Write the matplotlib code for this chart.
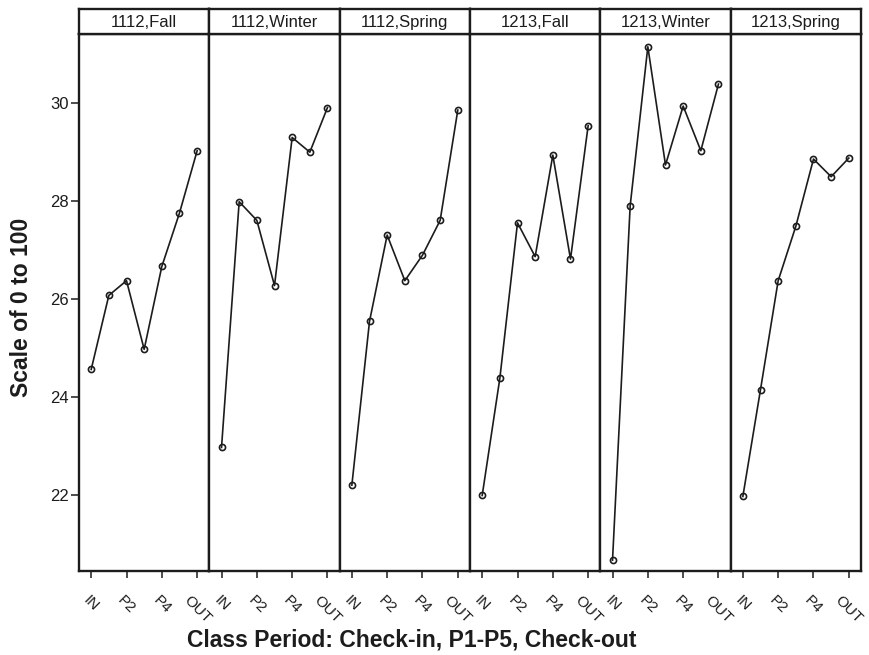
import matplotlib
matplotlib.use("Agg")
import matplotlib.pyplot as plt

plt.rcParams['font.family'] = ['Liberation Sans', 'DejaVu Sans']

# ---------------------------------------------------------------
# data: mean score per class period, one panel per term
# ---------------------------------------------------------------
periods = ['IN', 'P1', 'P2', 'P3', 'P4', 'P5', 'OUT']
tick_labels = ['IN', 'P2', 'P4', 'OUT']
terms = ['1112,Fall', '1112,Winter', '1112,Spring',
         '1213,Fall', '1213,Winter', '1213,Spring']

fall_1112 = [24.57, 26.08, 26.38, 24.98, 26.67, 27.76, 29.03]
winter_1112 = [22.98, 27.99, 27.61, 26.28, 29.30, 29.00, 29.91]
spring_1112 = [22.21, 25.55, 27.31, 26.38, 26.90, 27.61, 29.86]
fall_1213 = [22.00, 24.39, 27.56, 26.87, 28.94, 26.82, 29.54]
winter_1213 = [20.68, 27.91, 31.15, 28.74, 29.94, 29.03, 30.39]
spring_1213 = [21.98, 24.16, 26.38, 27.49, 28.86, 28.50, 28.88]

series = [fall_1112, winter_1112, spring_1112, fall_1213, winter_1213, spring_1213]
y_ticks = [22, 24, 26, 28, 30]

ink = '#1c1c1c'
W, H = 870, 655
fig = plt.figure(figsize=(W / 100, H / 100), dpi=100)

left, right = 79, 861
panel_top, panel_bot = 34, 571
strip_top = 9
pw = (right - left) / len(terms)

x = list(range(len(periods)))
for i, (term, vals) in enumerate(zip(terms, series)):
    x0 = left + i * pw
    ax = fig.add_axes([x0 / W, 1 - panel_bot / H, pw / W, (panel_bot - panel_top) / H])
    ax.plot(x, vals, color=ink, lw=1.2, marker='o', ms=4.4,
            mfc='none', mec=ink, mew=1.2)
    ax.set_xlim(-0.69, 6.69)
    ax.set_ylim(20.46, 31.41)
    ax.set_xticks([0, 2, 4, 6])
    ax.set_xticklabels(tick_labels, rotation=-45, ha='center', va='top',
                       fontsize=11, color=ink)
    ax.tick_params(axis='x', direction='out', length=5, width=1.1,
                   color=ink, pad=11)
    if i == 0:
        ax.set_yticks(y_ticks)
        ax.tick_params(axis='y', direction='out', length=5.5, width=1.1,
                       color=ink, labelsize=12, labelcolor=ink, pad=2)
    else:
        ax.set_yticks([])
    for sp in ax.spines.values():
        sp.set_linewidth(1.7)
        sp.set_color(ink)

    # strip on top of each panel
    sx = fig.add_axes([x0 / W, 1 - panel_top / H, pw / W, (panel_top - strip_top) / H])
    sx.set_xticks([])
    sx.set_yticks([])
    for sp in sx.spines.values():
        sp.set_linewidth(1.7)
        sp.set_color(ink)
    sx.text(0.5, 0.45, term, ha='center', va='center', fontsize=12,
            color=ink, transform=sx.transAxes)

fig.text(412 / W, 1 - 647 / H, 'Class Period: Check-in, P1-P5, Check-out',
         ha='center', va='baseline', fontsize=16.5, fontweight='bold', color=ink)
fig.text(22 / W, 1 - 307 / H, 'Scale of 0 to 100', rotation=90,
         ha='center', va='center', fontsize=16.5, fontweight='bold', color=ink)

fig.savefig('out.png', dpi=100)
